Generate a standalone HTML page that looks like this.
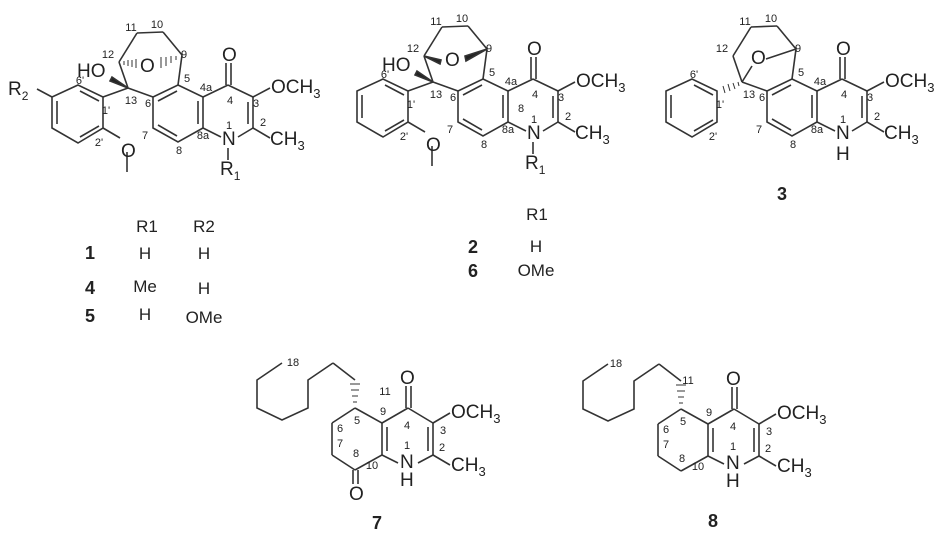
<!DOCTYPE html>
<html><head><meta charset="utf-8"><style>
html,body{margin:0;padding:0;background:#fff;}
svg{display:block;}
text{font-family:"Liberation Sans",sans-serif;fill:#222;}
.a{font-size:19px;}
.n{font-size:11px;text-anchor:middle;}
.t{font-size:17px;text-anchor:middle;}
.b{font-size:18px;font-weight:bold;text-anchor:middle;font-family:"Liberation Sans",sans-serif;}
</style></head><body>
<svg width="945" height="556" viewBox="0 0 945 556" xmlns="http://www.w3.org/2000/svg">
<defs>
<g id="core" stroke="#333" stroke-width="1.6" fill="none">
<polygon points="178,85 203,97 203,128 178,142 153,128 153,97"/>
<line x1="158" y1="101" x2="177" y2="91"/>
<line x1="198" y1="101" x2="198" y2="124"/>
<line x1="158" y1="125" x2="177" y2="136"/>
<line x1="203" y1="97" x2="228" y2="85"/>
<line x1="228" y1="85" x2="253" y2="97"/>
<line x1="253" y1="97" x2="253" y2="128"/>
<line x1="248" y1="102" x2="248" y2="124"/>
<line x1="253" y1="128" x2="238" y2="137"/>
<line x1="221" y1="137" x2="203" y2="128"/>
<line x1="226" y1="85" x2="226" y2="63"/>
<line x1="231" y1="85" x2="231" y2="63"/>
<line x1="253" y1="97" x2="270" y2="88"/>
<line x1="253" y1="128" x2="270" y2="138"/>
<line x1="128" y1="88" x2="153" y2="97"/>
<line x1="128" y1="88" x2="119" y2="62"/>
<line x1="119" y1="62" x2="137" y2="33"/>
<line x1="137" y1="33" x2="163" y2="32"/>
<line x1="163" y1="32" x2="182" y2="55"/>
<line x1="182" y1="55" x2="178" y2="85"/>
<polygon points="78,85 52,97 52,128 78,143 103,128 103,97"/>
<line x1="57" y1="101" x2="57" y2="124"/>
<line x1="80" y1="91" x2="99" y2="101"/>
<line x1="80" y1="137" x2="99" y2="126"/>
</g>
<g id="ome" stroke="#333" stroke-width="1.6" fill="none">
<line x1="103" y1="97" x2="128" y2="88"/>
<line x1="103" y1="128" x2="120" y2="138"/>
<line x1="127" y1="152" x2="127" y2="172"/>
<polygon points="128,88 112,77 110,81" fill="#222"/>
</g>
</defs>

<use href="#core"/>
<use href="#ome"/>
<g stroke="#333" stroke-width="1.6">
<line x1="228" y1="148" x2="228" y2="160"/>
<line x1="52" y1="97" x2="37" y2="89"/>
<g stroke-width="1"><line x1="124" y1="61" x2="124" y2="65"/><line x1="128" y1="60" x2="128" y2="66"/><line x1="132" y1="60" x2="132" y2="67"/><line x1="136" y1="59" x2="136" y2="68"/>
<line x1="176" y1="56" x2="176" y2="60"/><line x1="171" y1="56" x2="171" y2="63"/><line x1="166" y1="57" x2="166" y2="66"/><line x1="161" y1="57" x2="161" y2="68"/></g>
</g>
<text class="a" x="222" y="61">O</text>
<text class="a" x="271" y="93">OCH<tspan font-size="13" dy="5">3</tspan></text>
<text class="a" x="270" y="145">CH<tspan font-size="13" dy="5">3</tspan></text>
<text class="a" x="222" y="145">N</text>
<text class="a" x="220" y="175">R<tspan font-size="12" dy="5">1</tspan></text>
<text class="a" x="77" y="77">HO</text>
<text class="a" x="140" y="72">O</text>
<text class="a" x="121" y="157">O</text>
<text class="a" x="8" y="95">R<tspan font-size="12" dy="5">2</tspan></text>
<g class="n"><text x="131" y="31">11</text><text x="157" y="28">10</text><text x="108" y="58">12</text><text x="184" y="58">9</text><text x="187" y="82">5</text><text x="206" y="91">4a</text><text x="230" y="104">4</text><text x="256" y="107">3</text><text x="263" y="126">2</text><text x="229" y="129">1</text><text x="203" y="139">8a</text><text x="179" y="154">8</text><text x="145" y="139">7</text><text x="148" y="107">6</text><text x="131" y="104">13</text><text x="106" y="114">1'</text><text x="99" y="146">2'</text><text x="80" y="84">6'</text></g>
<text class="t" x="147" y="232">R1</text><text class="t" x="204" y="232">R2</text>
<text class="b" x="90" y="259">1</text><text class="t" x="145" y="259">H</text><text class="t" x="204" y="259">H</text>
<text class="b" x="90" y="294">4</text><text class="t" x="145" y="292">Me</text><text class="t" x="204" y="294">H</text>
<text class="b" x="90" y="322">5</text><text class="t" x="145" y="320">H</text><text class="t" x="204" y="323">OMe</text>

<g transform="translate(305,-6)">
<use href="#core"/>
<use href="#ome"/>
<g stroke="#333" stroke-width="1.6">
<line x1="228" y1="148" x2="228" y2="160"/>
<polygon points="119,62 136,66 135,70" fill="#222"/>
<polygon points="182,55 160,62 161,67" fill="#222"/>
</g>
<text class="a" x="222" y="61">O</text>
<text class="a" x="271" y="93">OCH<tspan font-size="13" dy="5">3</tspan></text>
<text class="a" x="270" y="145">CH<tspan font-size="13" dy="5">3</tspan></text>
<text class="a" x="222" y="145">N</text>
<text class="a" x="220" y="175">R<tspan font-size="12" dy="5">1</tspan></text>
<text class="a" x="77" y="77">HO</text>
<text class="a" x="140" y="72">O</text>
<text class="a" x="121" y="157">O</text>
<g class="n"><text x="131" y="31">11</text><text x="157" y="28">10</text><text x="108" y="58">12</text><text x="184" y="58">9</text><text x="187" y="82">5</text><text x="206" y="91">4a</text><text x="230" y="104">4</text><text x="256" y="107">3</text><text x="263" y="126">2</text><text x="229" y="129">1</text><text x="216" y="118">8</text><text x="203" y="139">8a</text><text x="179" y="154">8</text><text x="145" y="139">7</text><text x="148" y="107">6</text><text x="131" y="104">13</text><text x="106" y="114">1'</text><text x="99" y="146">2'</text><text x="80" y="84">6'</text></g>
</g>
<text class="t" x="537" y="220">R1</text>
<text class="b" x="473" y="253">2</text><text class="t" x="536" y="252">H</text>
<text class="b" x="473" y="277">6</text><text class="t" x="536" y="276">OMe</text>

<g transform="translate(614,-6)">
<use href="#core"/>
<g stroke="#333" stroke-width="1.6">
<line x1="128" y1="88" x2="138" y2="72"/>
<line x1="152" y1="65" x2="182" y2="55"/>
<g stroke-width="1"><line x1="124" y1="88" x2="125" y2="92"/><line x1="119" y1="89" x2="121" y2="95"/><line x1="114" y1="90" x2="116" y2="97"/><line x1="109" y1="92" x2="111" y2="99"/></g>
</g>
<text class="a" x="222" y="61">O</text>
<text class="a" x="271" y="93">OCH<tspan font-size="13" dy="5">3</tspan></text>
<text class="a" x="270" y="145">CH<tspan font-size="13" dy="5">3</tspan></text>
<text class="a" x="222" y="145">N</text>
<text class="a" x="222" y="166">H</text>
<text class="a" x="137" y="70">O</text>
<g class="n"><text x="131" y="31">11</text><text x="157" y="28">10</text><text x="108" y="58">12</text><text x="184" y="58">9</text><text x="187" y="82">5</text><text x="206" y="91">4a</text><text x="230" y="104">4</text><text x="256" y="107">3</text><text x="263" y="126">2</text><text x="229" y="129">1</text><text x="203" y="139">8a</text><text x="179" y="154">8</text><text x="145" y="139">7</text><text x="148" y="107">6</text><text x="135" y="104">13</text><text x="106" y="114">1'</text><text x="99" y="146">2'</text><text x="80" y="84">6'</text></g>
</g>
<text class="b" x="782" y="200">3</text>

<defs>
<g id="bot" stroke="#333" stroke-width="1.6" fill="none">
<polyline points="333,363 308,380 308,408 282,420 257,408 257,380 282,363"/>
<polyline points="355,380 333,363"/>
<line x1="355" y1="408" x2="382" y2="423"/>
<line x1="382" y1="423" x2="408" y2="408"/>
<line x1="408" y1="408" x2="433" y2="423"/>
<line x1="433" y1="423" x2="433" y2="455"/>
<line x1="428" y1="427" x2="428" y2="451"/>
<line x1="433" y1="455" x2="418" y2="463"/>
<line x1="398" y1="463" x2="382" y2="455"/>
<line x1="382" y1="423" x2="382" y2="455"/>
<line x1="387" y1="427" x2="387" y2="451"/>
<line x1="382" y1="455" x2="355" y2="470"/>
<line x1="355" y1="470" x2="332" y2="455"/>
<line x1="332" y1="455" x2="332" y2="423"/>
<line x1="332" y1="423" x2="355" y2="408"/>
<line x1="406" y1="408" x2="406" y2="386"/>
<line x1="411" y1="408" x2="411" y2="386"/>
<line x1="433" y1="423" x2="450" y2="413"/>
<line x1="433" y1="455" x2="450" y2="465"/>
<g stroke-width="1"><line x1="353" y1="402" x2="357" y2="402"/><line x1="352" y1="396" x2="358" y2="396"/><line x1="351" y1="390" x2="359" y2="390"/><line x1="350" y1="384" x2="360" y2="384"/></g>
</g>
</defs>
<use href="#bot"/>
<g stroke="#333" stroke-width="1.6"><line x1="353" y1="470" x2="353" y2="484"/><line x1="358" y1="470" x2="358" y2="484"/></g>
<g>
<text class="a" x="400" y="384">O</text>
<text class="a" x="349" y="500">O</text>
<text class="a" x="451" y="418">OCH<tspan font-size="13" dy="5">3</tspan></text>
<text class="a" x="451" y="471">CH<tspan font-size="13" dy="5">3</tspan></text>
<text class="a" x="400" y="468">N</text>
<text class="a" x="400" y="486">H</text>
<g class="n"><text x="293" y="366">18</text><text x="385" y="395">11</text><text x="383" y="415">9</text><text x="357" y="424">5</text><text x="407" y="429">4</text><text x="443" y="434">3</text><text x="442" y="451">2</text><text x="407" y="449">1</text><text x="340" y="432">6</text><text x="340" y="447">7</text><text x="356" y="457">8</text><text x="372" y="469">10</text></g>
<text class="b" x="377" y="529">7</text>
</g>

<g transform="translate(326,1)">
<use href="#bot"/>
<text class="a" x="400" y="384">O</text>
<text class="a" x="451" y="418">OCH<tspan font-size="13" dy="5">3</tspan></text>
<text class="a" x="451" y="471">CH<tspan font-size="13" dy="5">3</tspan></text>
<text class="a" x="400" y="468">N</text>
<text class="a" x="400" y="486">H</text>
<g class="n"><text x="290" y="366">18</text><text x="362" y="383">11</text><text x="383" y="415">9</text><text x="357" y="424">5</text><text x="407" y="429">4</text><text x="443" y="434">3</text><text x="442" y="451">2</text><text x="407" y="449">1</text><text x="340" y="432">6</text><text x="340" y="447">7</text><text x="356" y="461">8</text><text x="372" y="469">10</text></g>
</g>
<text class="b" x="713" y="527">8</text>
</svg>
</body></html>
